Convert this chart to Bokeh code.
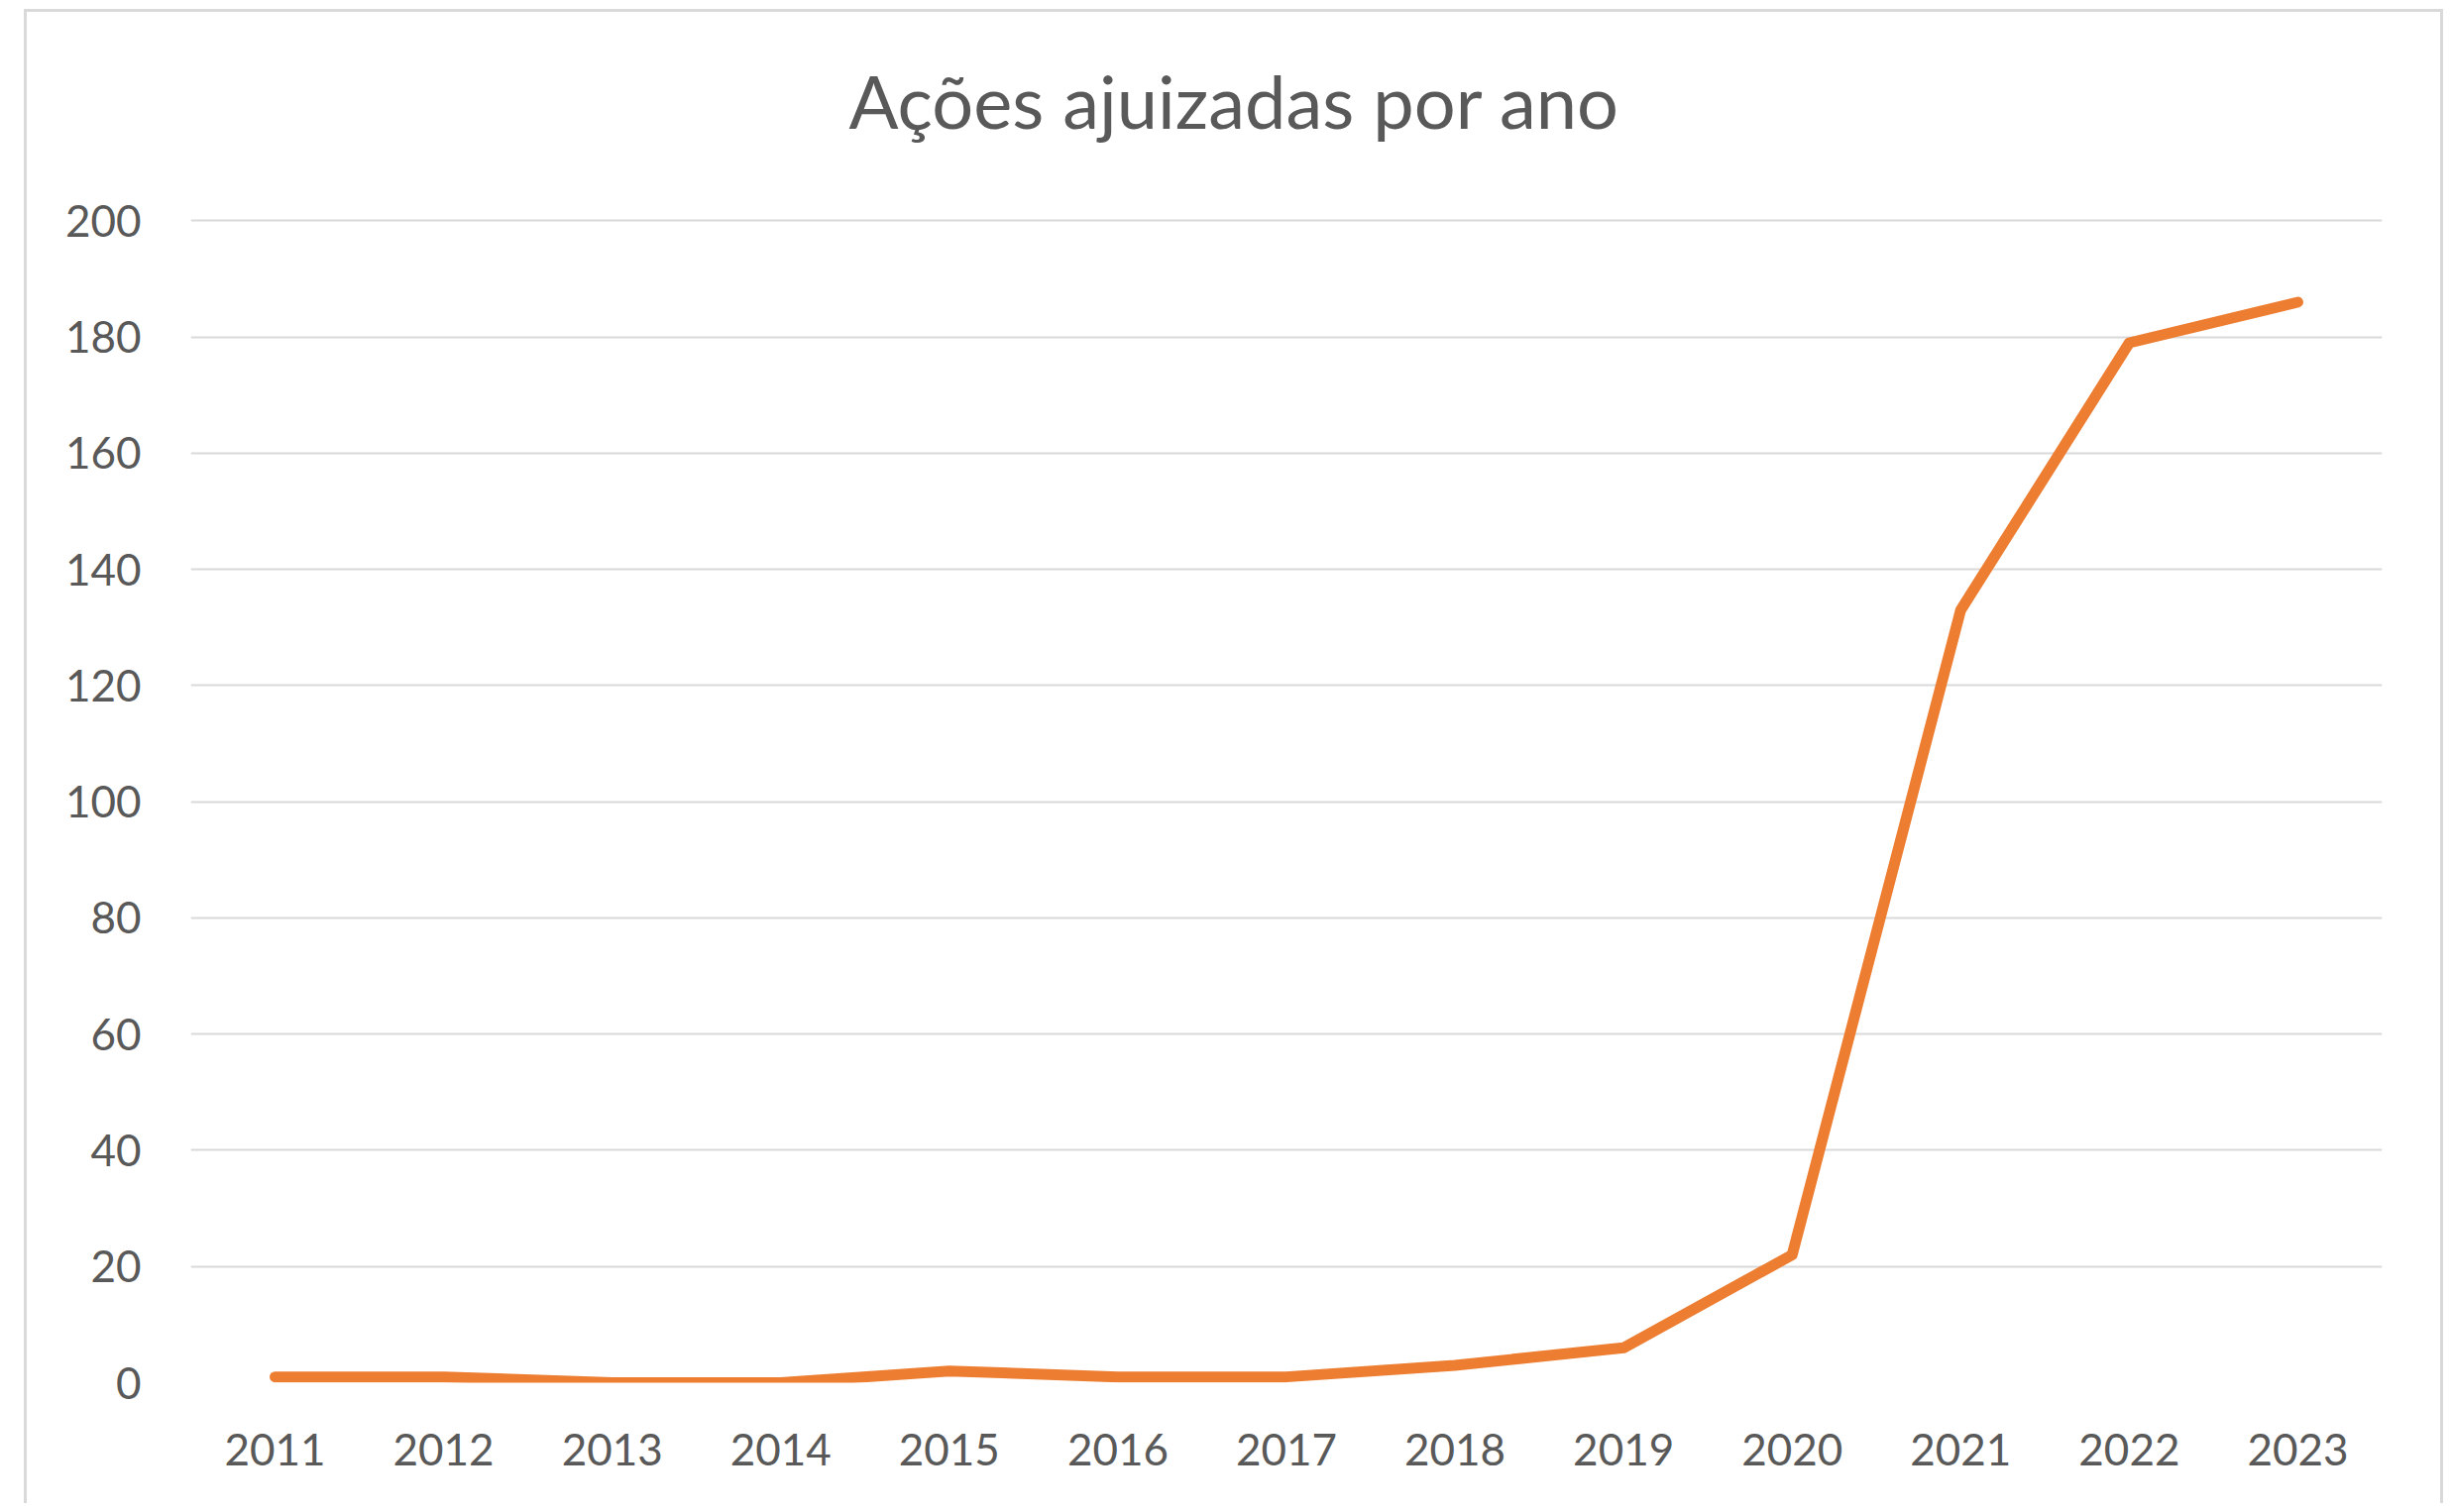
from bokeh.plotting import figure
from bokeh.models import Label, FixedTicker, Range1d, FactorRange
from bokeh.embed import file_html
from bokeh.resources import INLINE

years = ["2011", "2012", "2013", "2014", "2015", "2016", "2017",
         "2018", "2019", "2020", "2021", "2022", "2023"]
acoes = [1, 1, 0, 0, 2, 1, 1, 3, 6, 22, 133, 179, 186]
y_ticks = [0, 20, 40, 60, 80, 100, 120, 140, 160, 180, 200]
title_text = "Ações ajuizadas por ano"

FONT = "Lato"
GRAY = "#595959"

# frame extends above 200 so the title (a Label) is not clipped
Y_TOP = 200 * 1350 / 1170

p = figure(
    x_range=FactorRange(*years, range_padding=0),
    y_range=Range1d(0, Y_TOP),
    width=2441, height=1508,
    output_backend="svg", toolbar_location=None,
    min_border_left=165, min_border_right=65,
    min_border_top=30, min_border_bottom=125,
)
p.margin = (9, 0, 0, 24)
p.styles = {"border-left": "3px solid #d9d9d9",
            "border-top": "3px solid #d9d9d9",
            "border-right": "3px solid #d9d9d9",
            "box-sizing": "border-box"}
p.outline_line_color = None
p.background_fill_color = "white"
p.border_fill_color = "white"

p.line(years, acoes, line_color="#ED7D31", line_width=11,
       line_cap="round", line_join="round")

p.xgrid.grid_line_color = None
p.ygrid.grid_line_color = "#d9d9d9"
p.ygrid.grid_line_width = 2
p.yaxis.ticker = FixedTicker(ticks=y_ticks)

for ax in (p.xaxis[0], p.yaxis[0]):
    ax.axis_line_color = None
    ax.major_tick_line_color = None
    ax.minor_tick_line_color = None
    ax.major_label_text_font = FONT
    ax.major_label_text_font_size = "44px"
    ax.major_label_text_color = GRAY
p.yaxis.major_label_standoff = 44
p.xaxis.major_label_standoff = 45

# screen units are measured from the frame's bottom-left corner
title = Label(x=1244 - 191, y=1396 - 126 + 24, x_units="screen", y_units="screen",
              text=title_text, text_align="center", text_baseline="alphabetic",
              text_font=FONT, text_font_size="74px", text_color=GRAY)
p.add_layout(title)

open("out.html", "w").write(file_html(p, INLINE))
